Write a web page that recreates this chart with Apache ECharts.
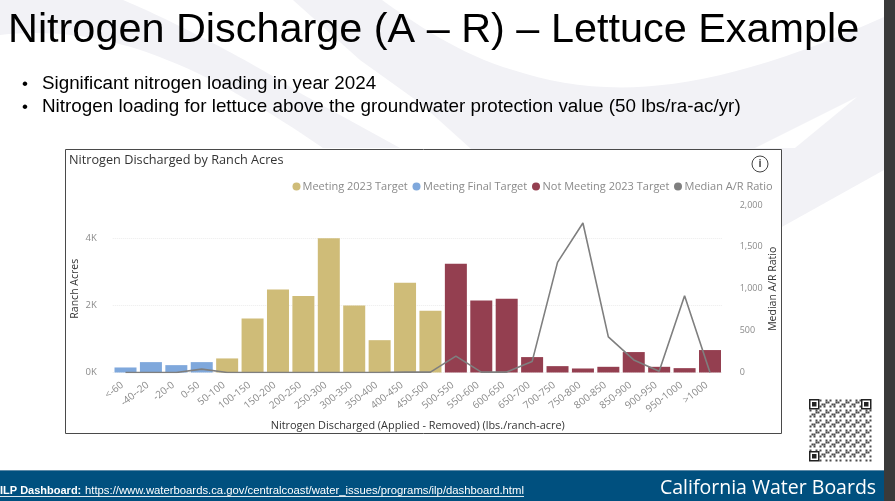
<!DOCTYPE html>
<html><head><meta charset="utf-8">
<style>html,body{margin:0;padding:0;background:#fff;overflow:hidden}#c{width:895px;height:501px}</style>
<script src="https://cdn.jsdelivr.net/npm/echarts@6/dist/echarts.min.js"></script>
</head><body><div id="c"></div>
<script>
const categories=["<-60","-40--20","-20-0","0-50","50-100","100-150","150-200","200-250","250-300","300-350","350-400","400-450","450-500","500-550","550-600","600-650","650-700","700-750","750-800","800-850","850-900","900-950","950-1000",">1000"];
const finalTarget=[150,310,220,310,null,null,null,null,null,null,null,null,null,null,null,null,null,null,null,null,null,null,null,null];
const target2023=[null,null,null,null,420,1610,2480,2280,4010,2000,965,2680,1840,null,null,null,null,null,null,null,null,null,null,null];
const notMeeting=[null,null,null,null,null,null,null,null,null,null,null,null,null,3250,2150,2200,460,190,120,170,610,170,130,670];
const medianAR=[0,0,0,40,0,0,0,0,0,0,0,5,5,195,5,5,130,1315,1785,425,150,15,915,0];
const GOLD='#cfbc78',BLUE='#7fa8dc',RED='#943f50',GREY='#7f7f7f',SWOOSH='#f2f2f6';
echarts.graphic.registerShape('swooshA',echarts.graphic.extendPath('M0 0 L123 0 C160 15 250 60 300 93 L400 148 L323 148 C290 125 220 80 167 60 C120 40 60 28 0 35 Z'));
echarts.graphic.registerShape('swooshB',echarts.graphic.extendPath('M293 0 L382 0 C410 20 460 55 513 70 C600 98 700 100 884 17 L884 170 L780 228 L560 228 L470 148 L420 103 L360 60 Z'));
const chart=echarts.init(document.getElementById('c'),null,{renderer:'canvas'});
const bar=(name,data,color)=>({name,type:'bar',data,stack:'a',barWidth:22,itemStyle:{color},yAxisIndex:0,z:2});
const legendDot=(x,c)=>({type:'circle',shape:{cx:x,cy:186.5,r:4},style:{fill:c},z:20});
const legendTxt=(x,t)=>({type:'text',x,y:186.5,style:{text:t,fill:'#8a8a8a',font:'11px "Open Sans"',verticalAlign:'middle',textAlign:'left'},z:20});
const qrCells=[];
const QX=809.5,QY=399.5,M=2,N=31;
const inFinder=(r,c)=>(r<5&&c<5)||(r<5&&c>=N-5)||(r>=N-5&&c<5);
for(let r=0;r<N;r++)for(let c=0;c<N;c++){
  if(inFinder(r,c))continue;
  if(((r*r*3+c*c*5+r*c*7+r+2*c)%5)<2)qrCells.push({type:'rect',shape:{x:QX+c*M,y:QY+r*M,width:M,height:M},style:{fill:'#4a4a4a'},z:15,silent:true});
}
const finder=(x,y)=>[
 {type:'rect',shape:{x:x+.75,y:y+.75,width:9,height:9},style:{fill:'#fff',stroke:'#222',lineWidth:1.5},z:15,silent:true},
 {type:'rect',shape:{x:x+3,y:y+3,width:4.5,height:4.5},style:{fill:'#222'},z:16,silent:true}];
chart.setOption({
 animation:false,
 backgroundColor:'#ffffff',
 grid:{left:112.8,right:172.3,top:205,bottom:128.5},
 legend:{show:false},
 xAxis:{type:'category',data:categories,axisLine:{show:false},axisTick:{show:false},
  axisLabel:{interval:0,rotate:38,color:'#8a8a8a',fontFamily:'Open Sans',fontSize:10,margin:9,padding:[0,4,0,0]},
  name:'Nitrogen Discharged (Applied - Removed) (lbs./ranch-acre)',nameLocation:'middle',nameGap:53,nameMoveOverlap:false,
  nameTextStyle:{color:'#333',fontFamily:'Open Sans',fontSize:10.9,verticalAlign:'middle'}},
 yAxis:[
  {type:'value',min:0,max:5000,interval:2000,axisLine:{show:false},axisTick:{show:false},
   splitLine:{show:true,showMaxLine:false,lineStyle:{color:'#ececec',type:'dotted'}},
   axisLabel:{color:'#8a8a8a',fontFamily:'Open Sans',fontSize:9.5,margin:16,showMaxLabel:false,formatter:v=>v/1000+'K'},
   name:'Ranch Acres',nameLocation:'middle',nameGap:38,nameRotate:90,nameMoveOverlap:false,nameTextStyle:{color:'#333',fontFamily:'Open Sans',fontSize:10.5,verticalAlign:'middle'}},
  {type:'value',min:0,max:2000,interval:500,position:'right',axisLine:{show:false},axisTick:{show:false},splitLine:{show:false},
   axisLabel:{color:'#8a8a8a',fontFamily:'Open Sans',fontSize:9,margin:17,formatter:v=>v===0?'0':v.toLocaleString('en-US')},
   name:'Median A/R Ratio',nameLocation:'middle',nameGap:50,nameRotate:90,nameMoveOverlap:false,nameTextStyle:{color:'#333',fontFamily:'Open Sans',fontSize:10.5,verticalAlign:'middle'}}
 ],
 series:[
  bar('Meeting 2023 Target',target2023,GOLD),
  bar('Meeting Final Target',finalTarget,BLUE),
  bar('Not Meeting 2023 Target',notMeeting,RED),
  {name:'Median A/R Ratio',type:'line',yAxisIndex:1,data:medianAR,symbol:'none',smooth:false,lineStyle:{color:GREY,width:1.6},z:5}
 ],
 graphic:{elements:[
  {type:'swooshA',shape:{},style:{fill:SWOOSH},z:-30,silent:true},
  {type:'swooshB',shape:{},style:{fill:SWOOSH},z:-30,silent:true},
  {type:'polygon',shape:{points:[[857,97],[795,148],[755,148]]},style:{fill:'#fff'},z:-25,silent:true},
  {type:'rect',shape:{x:65.5,y:149.5,width:716,height:284},style:{fill:'#fff',stroke:'#4a4a4a',lineWidth:1},z:-10,silent:true},
  {type:'text',x:69,y:160.5,style:{text:'Nitrogen Discharged by Ranch Acres',fill:'#333',font:'12.7px "Open Sans"',verticalAlign:'middle'},z:20},
  {type:'circle',shape:{cx:760,cy:164,r:8},style:{fill:'#fff',stroke:'#444',lineWidth:1},z:20},
  {type:'text',x:760,y:164,style:{text:'i',fill:'#444',font:'bold 10px "Open Sans"',textAlign:'center',verticalAlign:'middle'},z:21},
  legendDot(296.5,GOLD),legendTxt(302.5,'Meeting 2023 Target'),
  legendDot(416.5,BLUE),legendTxt(423,'Meeting Final Target'),
  legendDot(536,RED),legendTxt(542.5,'Not Meeting 2023 Target'),
  legendDot(678,GREY),legendTxt(684.5,'Median A/R Ratio'),
  {type:'text',x:8,y:31,style:{text:'Nitrogen Discharge (A – R) – Lettuce Example',fill:'#000',font:'41.4px "Liberation Sans"',verticalAlign:'middle'},z:20},
  {type:'text',x:22,y:84,style:{text:'•',fill:'#000',font:'17px "Liberation Sans"',verticalAlign:'middle'},z:20},
  {type:'text',x:42,y:84,style:{text:'Significant nitrogen loading in year 2024',fill:'#000',font:'18.8px "Liberation Sans"',verticalAlign:'middle'},z:20},
  {type:'text',x:22,y:107,style:{text:'•',fill:'#000',font:'17px "Liberation Sans"',verticalAlign:'middle'},z:20},
  {type:'text',x:42,y:107,style:{text:'Nitrogen loading for lettuce above the groundwater protection value (50 lbs/ra-ac/yr)',fill:'#000',font:'18.85px "Liberation Sans"',verticalAlign:'middle'},z:20},
  ...qrCells,...finder(809,399),...finder(861,399),...finder(809,451),
  {type:'rect',shape:{x:0,y:471,width:884,height:30},style:{fill:'#00507f'},z:10,silent:true},
  {type:'rect',shape:{x:0,y:470,width:884,height:1},style:{fill:'#5d8aa8'},z:10,silent:true},
  {type:'text',x:0,y:491,style:{text:'ILP Dashboard: ',fill:'#fff',font:'bold 11px "Liberation Sans"',verticalAlign:'middle'},z:20},
  {type:'text',x:85,y:491,style:{text:'https://www.waterboards.ca.gov/centralcoast/water_issues/programs/ilp/dashboard.html',fill:'#fff',font:'11.3px "Liberation Sans"',verticalAlign:'middle'},z:20},
  {type:'rect',shape:{x:0,y:496,width:524,height:1},style:{fill:'#dfe8ee'},z:20,silent:true},
  {type:'text',x:660,y:488,style:{text:'California Water Boards',fill:'#fff',font:'19.5px "Open Sans"',verticalAlign:'middle'},z:20},
  {type:'rect',shape:{x:884,y:0,width:11,height:501},style:{fill:'#3a3a3a'},z:30,silent:true}
 ]}
});
</script></body></html>
